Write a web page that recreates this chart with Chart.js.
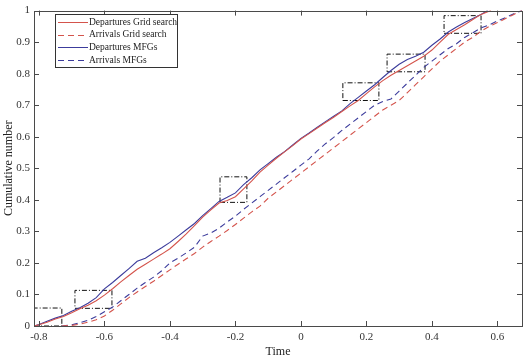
<!DOCTYPE html>
<html lang="en">
<head>
<meta charset="UTF-8">
<title>Cumulative number vs Time</title>
<script src="https://cdn.jsdelivr.net/npm/chart.js"></script>
<style>
  html, body { margin: 0; padding: 0; background: #fff; }
  #wrap { width: 530px; height: 360px; }
</style>
</head>
<body>
<div id="wrap"><canvas id="cumChart"></canvas></div>
<script>
// ---- data ----
const depGridX = [-0.815, -0.80, -0.775, -0.75, -0.725, -0.70, -0.675, -0.65, -0.625, -0.60, -0.575, -0.55, -0.525, -0.50, -0.475, -0.45, -0.425, -0.40, -0.375, -0.35, -0.325, -0.30, -0.275, -0.25, -0.225, -0.20, -0.175, -0.15, -0.125, -0.10, -0.075, -0.05, -0.025, 0.00, 0.025, 0.05, 0.075, 0.10, 0.125, 0.15, 0.175, 0.20, 0.225, 0.25, 0.275, 0.30, 0.325, 0.35, 0.375, 0.40, 0.425, 0.45, 0.475, 0.50, 0.525, 0.55, 0.58];
const depGridY = [0, 0.004, 0.012, 0.022, 0.030, 0.042, 0.055, 0.066, 0.080, 0.098, 0.118, 0.140, 0.160, 0.180, 0.196, 0.212, 0.228, 0.245, 0.268, 0.292, 0.318, 0.345, 0.368, 0.390, 0.398, 0.410, 0.435, 0.460, 0.488, 0.510, 0.532, 0.552, 0.572, 0.593, 0.610, 0.628, 0.645, 0.662, 0.680, 0.698, 0.715, 0.737, 0.758, 0.778, 0.795, 0.810, 0.825, 0.840, 0.855, 0.875, 0.900, 0.925, 0.940, 0.955, 0.972, 0.988, 1];

const arrGridX = [-0.73, -0.70, -0.675, -0.65, -0.625, -0.60, -0.575, -0.55, -0.525, -0.50, -0.475, -0.45, -0.425, -0.40, -0.375, -0.35, -0.325, -0.30, -0.275, -0.25, -0.225, -0.20, -0.175, -0.15, -0.125, -0.10, -0.075, -0.05, -0.025, 0.00, 0.025, 0.05, 0.075, 0.10, 0.125, 0.15, 0.175, 0.20, 0.225, 0.25, 0.275, 0.30, 0.325, 0.35, 0.375, 0.40, 0.425, 0.45, 0.475, 0.50, 0.525, 0.55, 0.575, 0.60, 0.625, 0.65, 0.675];
const arrGridY = [0, 0.002, 0.006, 0.012, 0.020, 0.032, 0.050, 0.070, 0.090, 0.108, 0.125, 0.142, 0.160, 0.178, 0.196, 0.213, 0.230, 0.250, 0.268, 0.285, 0.303, 0.322, 0.342, 0.362, 0.380, 0.405, 0.425, 0.445, 0.465, 0.485, 0.505, 0.525, 0.545, 0.565, 0.585, 0.605, 0.625, 0.645, 0.665, 0.685, 0.700, 0.715, 0.740, 0.765, 0.790, 0.815, 0.840, 0.860, 0.880, 0.900, 0.915, 0.935, 0.950, 0.962, 0.975, 0.988, 1];

const depMfgX = [-0.815, -0.80, -0.775, -0.75, -0.725, -0.70, -0.675, -0.65, -0.625, -0.60, -0.575, -0.55, -0.525, -0.50, -0.475, -0.45, -0.425, -0.40, -0.375, -0.35, -0.325, -0.30, -0.275, -0.25, -0.225, -0.20, -0.175, -0.15, -0.125, -0.10, -0.075, -0.05, -0.025, 0.00, 0.025, 0.05, 0.075, 0.10, 0.125, 0.15, 0.175, 0.20, 0.225, 0.25, 0.275, 0.30, 0.325, 0.35, 0.375, 0.40, 0.425, 0.45, 0.475, 0.50, 0.525, 0.55, 0.57];
const depMfgY = [0, 0.005, 0.015, 0.025, 0.033, 0.047, 0.058, 0.072, 0.090, 0.118, 0.138, 0.160, 0.182, 0.205, 0.215, 0.232, 0.248, 0.265, 0.285, 0.305, 0.325, 0.350, 0.372, 0.395, 0.408, 0.422, 0.448, 0.470, 0.495, 0.515, 0.535, 0.553, 0.574, 0.595, 0.612, 0.630, 0.648, 0.665, 0.682, 0.705, 0.725, 0.745, 0.765, 0.788, 0.810, 0.830, 0.845, 0.855, 0.868, 0.890, 0.910, 0.932, 0.948, 0.962, 0.975, 0.988, 1];

const arrMfgX = [-0.73, -0.70, -0.675, -0.65, -0.625, -0.60, -0.575, -0.55, -0.525, -0.50, -0.475, -0.45, -0.425, -0.40, -0.375, -0.35, -0.325, -0.30, -0.275, -0.25, -0.225, -0.20, -0.175, -0.15, -0.125, -0.10, -0.075, -0.05, -0.025, 0.00, 0.025, 0.05, 0.075, 0.10, 0.125, 0.15, 0.175, 0.20, 0.225, 0.25, 0.275, 0.30, 0.325, 0.35, 0.375, 0.40, 0.425, 0.45, 0.475, 0.50, 0.525, 0.55, 0.575, 0.60, 0.625, 0.65, 0.675];
const arrMfgY = [0, 0.004, 0.010, 0.018, 0.030, 0.045, 0.060, 0.080, 0.100, 0.120, 0.138, 0.155, 0.175, 0.200, 0.215, 0.232, 0.250, 0.285, 0.295, 0.310, 0.330, 0.348, 0.370, 0.390, 0.410, 0.430, 0.450, 0.470, 0.490, 0.510, 0.530, 0.555, 0.578, 0.598, 0.620, 0.640, 0.660, 0.680, 0.700, 0.712, 0.720, 0.745, 0.770, 0.795, 0.820, 0.840, 0.860, 0.880, 0.895, 0.915, 0.930, 0.945, 0.955, 0.967, 0.978, 0.990, 1];

// zoom boxes: [xStart, xEnd, yStart, yEnd]
const zoomBoxes = [
    [-0.815, -0.730, 0.000, 0.057],
    [-0.690, -0.577, 0.056, 0.113],
    [-0.247, -0.165, 0.392, 0.473],
    [0.128, 0.238, 0.715, 0.771],
    [0.263, 0.379, 0.806, 0.862],
    [0.437, 0.550, 0.928, 0.984]
];

const xTicks = [-0.8, -0.6, -0.4, -0.2, 0, 0.2, 0.4, 0.6];
const yTicks = [0, 0.1, 0.2, 0.3, 0.4, 0.5, 0.6, 0.7, 0.8, 0.9, 1];
const xRange = [-0.815, 0.675];
const yRange = [0, 1];

const seriesNames = ['Departures Grid search', 'Arrivals Grid search', 'Departures MFGs', 'Arrivals MFGs'];

// ---- build datasets ----
function toPoints(xs, ys) {
    return xs.map((x, i) => ({ x: x, y: ys[i] }));
}

const RED = '#d4544c';
const BLUE = '#3c3c9c';
const AXIS = '#4a4a4a';
const FONT = "'Liberation Serif', 'DejaVu Serif', serif";

const seriesSets = [
    { label: seriesNames[0], data: toPoints(depGridX, depGridY), borderColor: RED, borderDash: [] },
    { label: seriesNames[1], data: toPoints(arrGridX, arrGridY), borderColor: RED, borderDash: [6, 4] },
    { label: seriesNames[2], data: toPoints(depMfgX, depMfgY), borderColor: BLUE, borderDash: [] },
    { label: seriesNames[3], data: toPoints(arrMfgX, arrMfgY), borderColor: BLUE, borderDash: [6, 4] }
].map(ds => Object.assign(ds, { borderWidth: 1.1, pointRadius: 0, tension: 0, fill: false, isSeries: true }));

const boxSets = zoomBoxes.map(b => ({
    label: 'box',
    data: [
        { x: b[0], y: b[2] }, { x: b[1], y: b[2] }, { x: b[1], y: b[3] },
        { x: b[0], y: b[3] }, { x: b[0], y: b[2] }
    ],
    borderColor: '#111',
    borderWidth: 1,
    borderDash: [5, 2, 1, 2],
    pointRadius: 0,
    tension: 0,
    fill: false
}));

// box frame, inward ticks and legend, MATLAB style
const frameLegend = {
    id: 'frameLegend',
    afterDraw(chart) {
        const ctx = chart.ctx;
        const a = chart.chartArea;
        const xs = chart.scales.x, ys = chart.scales.y;
        ctx.save();
        ctx.strokeStyle = AXIS;
        ctx.lineWidth = 1;
        ctx.setLineDash([]);
        ctx.strokeRect(Math.round(a.left) + 0.5, Math.round(a.top) + 0.5,
            Math.round(a.right - a.left), Math.round(a.bottom - a.top));
        const t = 5;
        ctx.beginPath();
        xTicks.forEach(v => {
            const px = Math.round(xs.getPixelForValue(v)) + 0.5;
            ctx.moveTo(px, a.bottom); ctx.lineTo(px, a.bottom - t);
            ctx.moveTo(px, a.top); ctx.lineTo(px, a.top + t);
        });
        yTicks.forEach(v => {
            const py = Math.round(ys.getPixelForValue(v)) + 0.5;
            ctx.moveTo(a.left, py); ctx.lineTo(a.left + t, py);
            ctx.moveTo(a.right, py); ctx.lineTo(a.right - t, py);
        });
        ctx.stroke();

        // legend
        const lx = 55, ly = 14, lw = 122, lh = 53;
        ctx.fillStyle = '#fff';
        ctx.fillRect(lx, ly, lw, lh);
        ctx.strokeStyle = '#333';
        ctx.strokeRect(lx + 0.5, ly + 0.5, lw, lh);
        ctx.font = '9.5px ' + FONT;
        ctx.textBaseline = 'middle';
        ctx.textAlign = 'left';
        chart.data.datasets.filter(d => d.isSeries).forEach((d, i) => {
            const y = ly + 8 + i * 12.7;
            ctx.strokeStyle = d.borderColor;
            ctx.setLineDash(d.borderDash);
            ctx.beginPath();
            ctx.moveTo(lx + 3, Math.round(y) + 0.5);
            ctx.lineTo(lx + 33, Math.round(y) + 0.5);
            ctx.stroke();
            ctx.setLineDash([]);
            ctx.fillStyle = '#222';
            ctx.fillText(d.label, lx + 34, y);
        });
        ctx.restore();
    }
};

new Chart(document.getElementById('cumChart'), {
    type: 'line',
    data: { datasets: seriesSets.concat(boxSets) },
    options: {
        responsive: true,
        maintainAspectRatio: false,
        animation: false,
        layout: { padding: { top: 7, right: 8, left: 0, bottom: 0 } },
        plugins: { legend: { display: false }, tooltip: { enabled: false } },
        scales: {
            x: {
                type: 'linear',
                min: xRange[0],
                max: xRange[1],
                afterBuildTicks: s => { s.ticks = xTicks.map(v => ({ value: v })); },
                afterFit: s => { s.height = 34; },
                grid: { display: false, drawTicks: false },
                border: { display: false },
                ticks: {
                    color: '#333',
                    padding: 5,
                    maxRotation: 0,
                    font: { family: FONT, size: 11 },
                    callback: v => String(Math.round(v * 10) / 10)
                },
                title: {
                    display: true,
                    text: 'Time',
                    color: '#222',
                    padding: { top: 0, bottom: 1 },
                    font: { family: FONT, size: 12 }
                }
            },
            y: {
                type: 'linear',
                min: yRange[0],
                max: yRange[1],
                afterBuildTicks: s => { s.ticks = yTicks.map(v => ({ value: v })); },
                afterFit: s => { s.width = 34; },
                grid: { display: false, drawTicks: false },
                border: { display: false },
                ticks: {
                    color: '#333',
                    padding: 4,
                    font: { family: FONT, size: 11 },
                    callback: v => String(Math.round(v * 10) / 10)
                },
                title: {
                    display: true,
                    text: 'Cumulative number',
                    color: '#222',
                    padding: { top: 2, bottom: 0 },
                    font: { family: FONT, size: 12 }
                }
            }
        }
    },
    plugins: [frameLegend]
});
</script>
</body>
</html>
